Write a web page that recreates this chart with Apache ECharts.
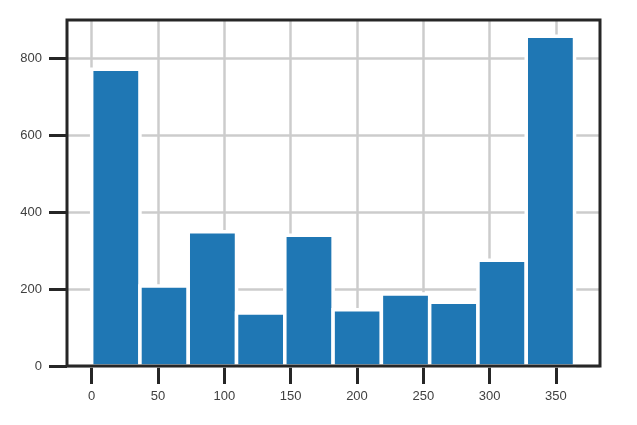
<!DOCTYPE html>
<html>
<head>
<meta charset="utf-8">
<script src="https://cdn.jsdelivr.net/npm/echarts@6/dist/echarts.min.js"></script>
<style>
  html, body { margin: 0; padding: 0; background: #ffffff; }
  #chart { width: 637px; height: 425px; }
</style>
</head>
<body>
<div id="chart"></div>
<script>
// Histogram bins (left and right edges) and counts
const binStarts = [0, 36.4, 72.8, 109.2, 145.6, 182.0, 218.4, 254.8, 291.2, 327.6];
const binEnds   = [36.4, 72.8, 109.2, 145.6, 182.0, 218.4, 254.8, 291.2, 327.6, 364.0];
const counts    = [772, 208, 349, 138, 340, 146, 187, 166, 275, 858];

// Tick labels
const xTicks = [0, 50, 100, 150, 200, 250, 300, 350];
const yTicks = [0, 200, 400, 600, 800];

const data = binStarts.map((s, i) => [s, binEnds[i], counts[i]]);

const chart = echarts.init(document.getElementById('chart'), null, { renderer: 'canvas' });

const labelStyle = {
  color: '#404040',
  fontFamily: 'Liberation Sans, Arial, sans-serif',
  fontSize: 13
};

chart.setOption({
  animation: false,
  backgroundColor: '#ffffff',
  grid: {
    show: true,
    z: 5,
    left: 67,
    right: 37,
    top: 20,
    bottom: 59,
    borderColor: '#262626',
    borderWidth: 3,
    backgroundColor: 'transparent'
  },
  xAxis: {
    type: 'value',
    min: -18.6,
    max: 383.2,
    axisLine: { show: false, onZero: false },
    axisTick: {
      show: true,
      customValues: xTicks,
      length: 18,
      lineStyle: { color: '#262626', width: 3 }
    },
    axisLabel: Object.assign({
      customValues: xTicks,
      margin: 24
    }, labelStyle),
    splitLine: { show: true, lineStyle: { color: '#cccccc', width: 2.5 } }
  },
  yAxis: {
    type: 'value',
    min: 0,
    max: 900,
    axisLine: { show: false, onZero: false },
    axisTick: {
      show: true,
      customValues: yTicks,
      length: 18,
      lineStyle: { color: '#262626', width: 3 }
    },
    axisLabel: Object.assign({
      customValues: yTicks,
      margin: 25
    }, labelStyle),
    splitLine: { show: true, lineStyle: { color: '#cccccc', width: 2.5 } }
  },
  series: [{
    type: 'custom',
    z: 2,
    data: data,
    encode: { x: [0, 1], y: 2 },
    renderItem: function (params, api) {
      const x0 = api.value(0);
      const x1 = api.value(1);
      const v = api.value(2);
      const p0 = api.coord([x0, 0]);
      const p1 = api.coord([x1, v]);
      return {
        type: 'rect',
        shape: { x: p0[0], y: p1[1], width: p1[0] - p0[0], height: p0[1] - p1[1] },
        style: { fill: '#1f77b4', stroke: '#ffffff', lineWidth: 3.5 }
      };
    }
  }]
});
</script>
</body>
</html>
